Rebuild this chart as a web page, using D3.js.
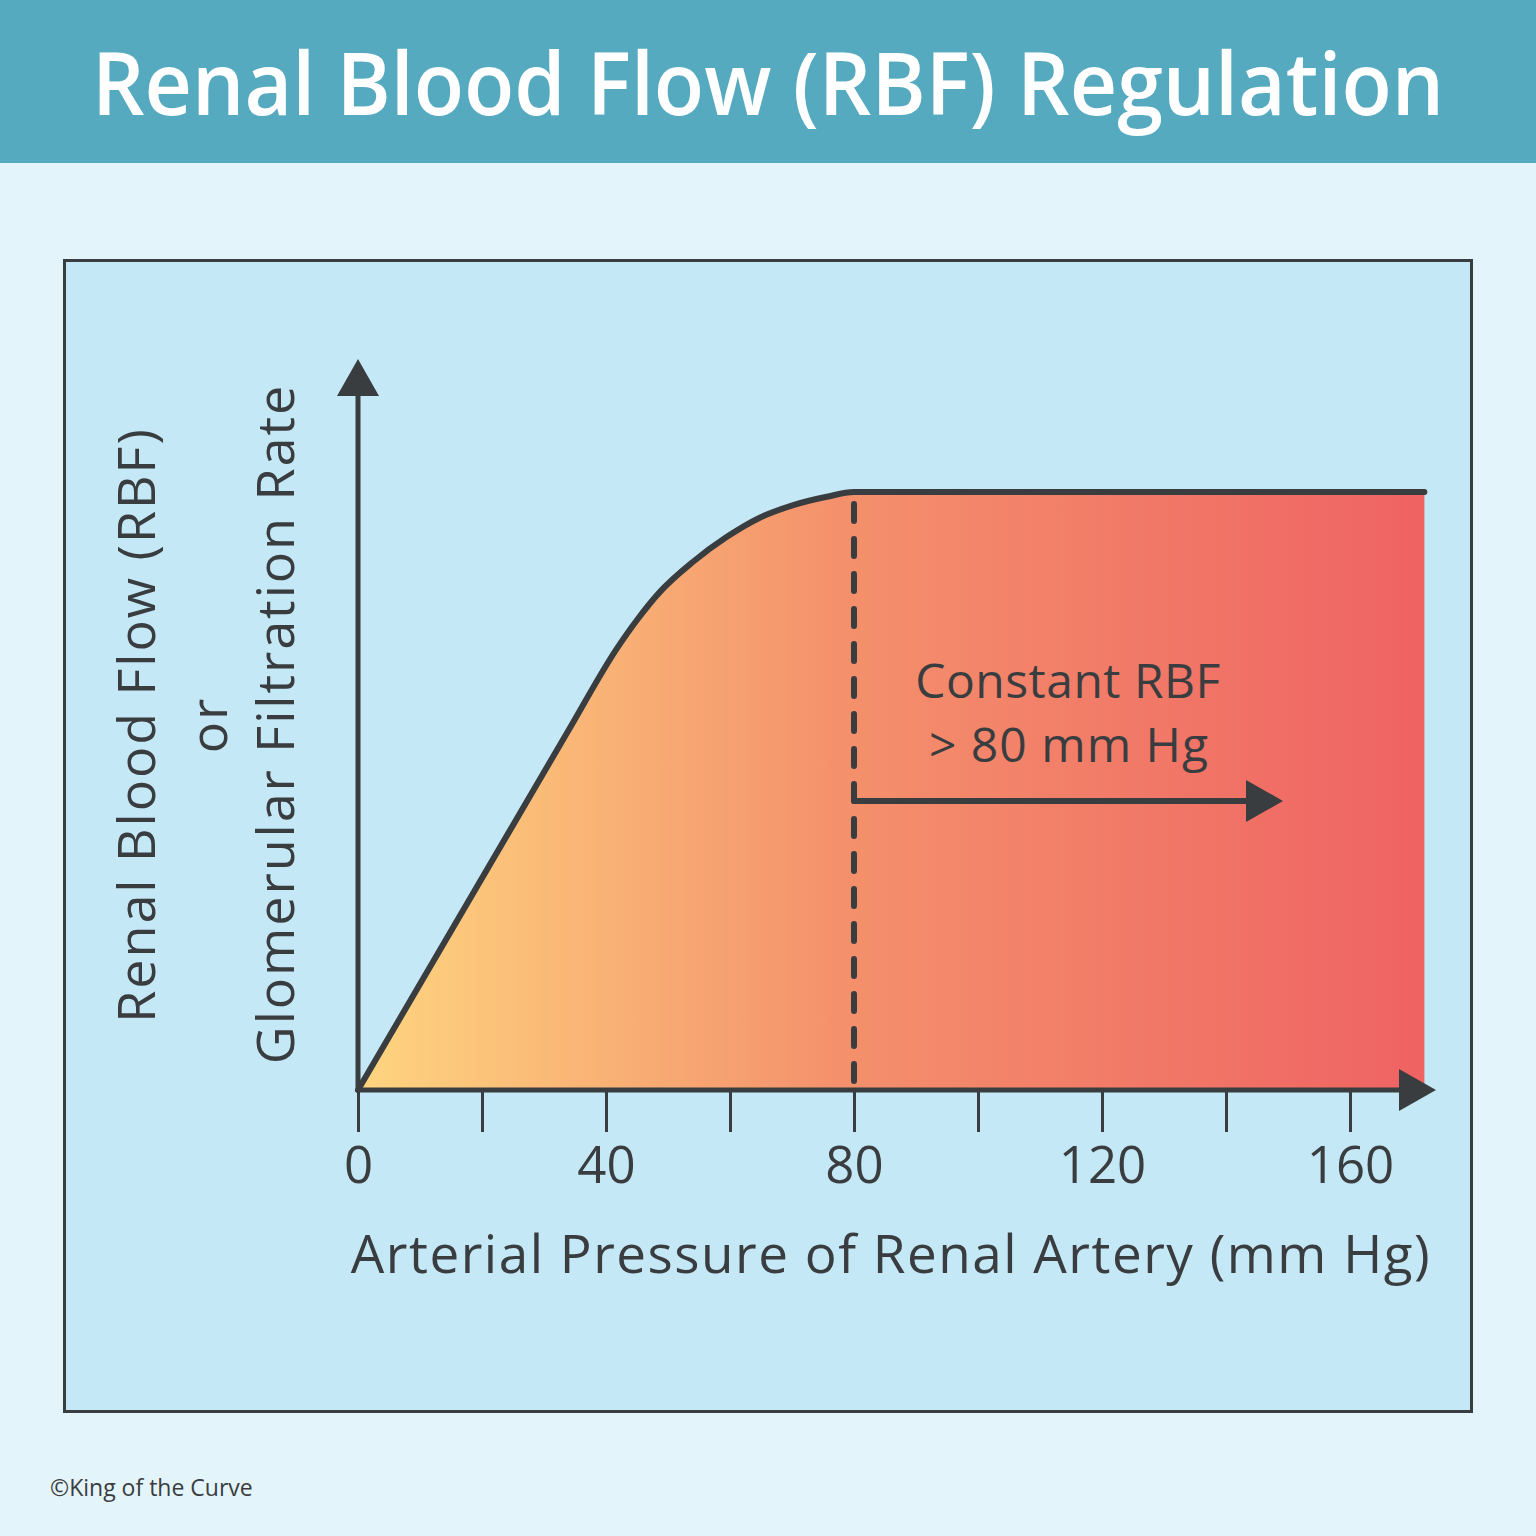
<!DOCTYPE html>
<html><head><meta charset="utf-8">
<script src="https://cdn.jsdelivr.net/npm/d3@7"></script>
<style>html,body{margin:0;padding:0;background:#e3f4fb;}svg{display:block;}</style>
</head><body>
<script>
// Data
const pressure = [0, 33.7, 41.8, 45, 48.7, 54, 59.5, 64.8, 70.2, 75.6, 80, 172];
const flow     = [0, 59.7, 73.9, 78.6, 83.3, 88.3, 92.5, 95.7, 97.8, 99.2, 100, 100];
const tickValues = [0, 20, 40, 60, 80, 100, 120, 140, 160];
const tickLabels = {0:"0", 40:"40", 80:"80", 120:"120", 160:"160"};
const threshold = 80;
const titleText = "Renal Blood Flow (RBF) Regulation";
const xLabel = "Arterial Pressure of Renal Artery (mm Hg)";
const yLabel1 = "Renal Blood Flow (RBF)";
const yLabel2 = "or";
const yLabel3 = "Glomerular Filtration Rate";
const noteLines = ["Constant RBF", "> 80 mm Hg"];
const credit = "©King of the Curve";

const W = 1536, H = 1536;
const dark = "#3a3d40";
const font = "'Open Sans', sans-serif";

const svg = d3.select("body").append("svg").attr("width", W).attr("height", H);
const defs = svg.append("defs");
const grad = defs.append("linearGradient").attr("id","fillGrad")
  .attr("gradientUnits","userSpaceOnUse").attr("x1",358).attr("x2",1420).attr("y1",0).attr("y2",0);
grad.append("stop").attr("offset","0%").attr("stop-color","#fed57f");
grad.append("stop").attr("offset","45%").attr("stop-color","#f4916c");
grad.append("stop").attr("offset","100%").attr("stop-color","#ef6363");

// background
svg.append("rect").attr("width",W).attr("height",H).attr("fill","#e3f4fb");
svg.append("rect").attr("width",W).attr("height",163).attr("fill","#55aabf");
svg.append("text").attr("x",768).attr("y",115).attr("text-anchor","middle")
  .attr("font-family",font).attr("font-weight",600).attr("font-size",86)
  .attr("fill","#ffffff").attr("textLength",1352).attr("lengthAdjust","spacingAndGlyphs").text(titleText);

// plot box
svg.append("rect").attr("x",64.5).attr("y",260.5).attr("width",1407).attr("height",1151)
  .attr("fill","#c5e8f6").attr("stroke",dark).attr("stroke-width",3);

const x = d3.scaleLinear().domain([0,160]).range([358,1350]);
const y = d3.scaleLinear().domain([0,100]).range([1090,492]);

const pts = pressure.map((p,i)=>[p, flow[i]]);
const area = d3.area().x(d=>x(d[0])).y0(y(0)).y1(d=>y(d[1])).curve(d3.curveMonotoneX);
const line = d3.line().x(d=>x(d[0])).y(d=>y(d[1])).curve(d3.curveMonotoneX);

svg.append("path").attr("d",area(pts)).attr("fill","url(#fillGrad)");

// dashed threshold line
svg.append("line").attr("x1",x(threshold)).attr("x2",x(threshold))
  .attr("y1",y(100)+12).attr("y2",y(0)).attr("stroke",dark).attr("stroke-width",6)
  .attr("stroke-dasharray","17 18").attr("stroke-linecap","round");

svg.append("path").attr("d",line(pts)).attr("fill","none").attr("stroke",dark)
  .attr("stroke-width",6).attr("stroke-linecap","round").attr("stroke-linejoin","round");

// x axis ticks
const xAxis = d3.axisBottom(x).tickValues(tickValues).tickSize(42)
  .tickFormat(d=>tickLabels[d] || "");
const gx = svg.append("g").attr("transform",`translate(0,${y(0)})`).call(xAxis);
gx.select(".domain").remove();
gx.selectAll(".tick line").attr("stroke",dark).attr("stroke-width",3);
gx.selectAll(".tick text").attr("font-family",font).attr("font-size",51)
  .attr("fill",dark).attr("y",0).attr("dy",0)
  .attr("transform","translate(0,93)");

// axes lines with arrows
svg.append("line").attr("x1",x(0)).attr("x2",x(0)).attr("y1",y(0)+2).attr("y2",392)
  .attr("stroke",dark).attr("stroke-width",5);
svg.append("path").attr("d",`M${x(0)},359 L${x(0)+21},396 L${x(0)-21},396 Z`).attr("fill",dark);
svg.append("line").attr("x1",x(0)-2).attr("x2",1402).attr("y1",y(0)).attr("y2",y(0))
  .attr("stroke",dark).attr("stroke-width",5);
svg.append("path").attr("d",`M1436,${y(0)} L1399,${y(0)-21} L1399,${y(0)+21} Z`).attr("fill",dark);

// note arrow
const ay = 801;
svg.append("line").attr("x1",x(threshold)).attr("x2",1250).attr("y1",ay).attr("y2",ay)
  .attr("stroke",dark).attr("stroke-width",6).attr("stroke-linecap","round");
svg.append("path").attr("d",`M1283,${ay} L1246,${ay-21} L1246,${ay+21} Z`).attr("fill",dark);

// note text
svg.append("text").attr("x",1068).attr("y",698).attr("text-anchor","middle")
  .attr("font-family",font).attr("font-size",48).attr("letter-spacing",0.5).attr("fill",dark).text(noteLines[0]);
svg.append("text").attr("x",1069).attr("y",762).attr("text-anchor","middle")
  .attr("font-family",font).attr("font-size",48).attr("letter-spacing",1).attr("fill",dark).text(noteLines[1]);

// x label
svg.append("text").attr("x",891).attr("y",1273).attr("text-anchor","middle")
  .attr("font-family",font).attr("font-size",53).attr("letter-spacing",1.5).attr("fill",dark).text(xLabel);

// y labels
const yl = [[yLabel1,155,725],[yLabel2,227,725],[yLabel3,294,724]];
yl.forEach(([t,bx,cy])=>{
  svg.append("text").attr("transform",`translate(${bx},${cy}) rotate(-90)`)
    .attr("text-anchor","middle").attr("font-family",font).attr("font-size",52)
    .attr("letter-spacing",2).attr("fill",dark).text(t);
});

// credit
svg.append("text").attr("x",50).attr("y",1496).attr("font-family",font)
  .attr("font-size",23).attr("fill",dark).text(credit);
</script>
</body></html>
